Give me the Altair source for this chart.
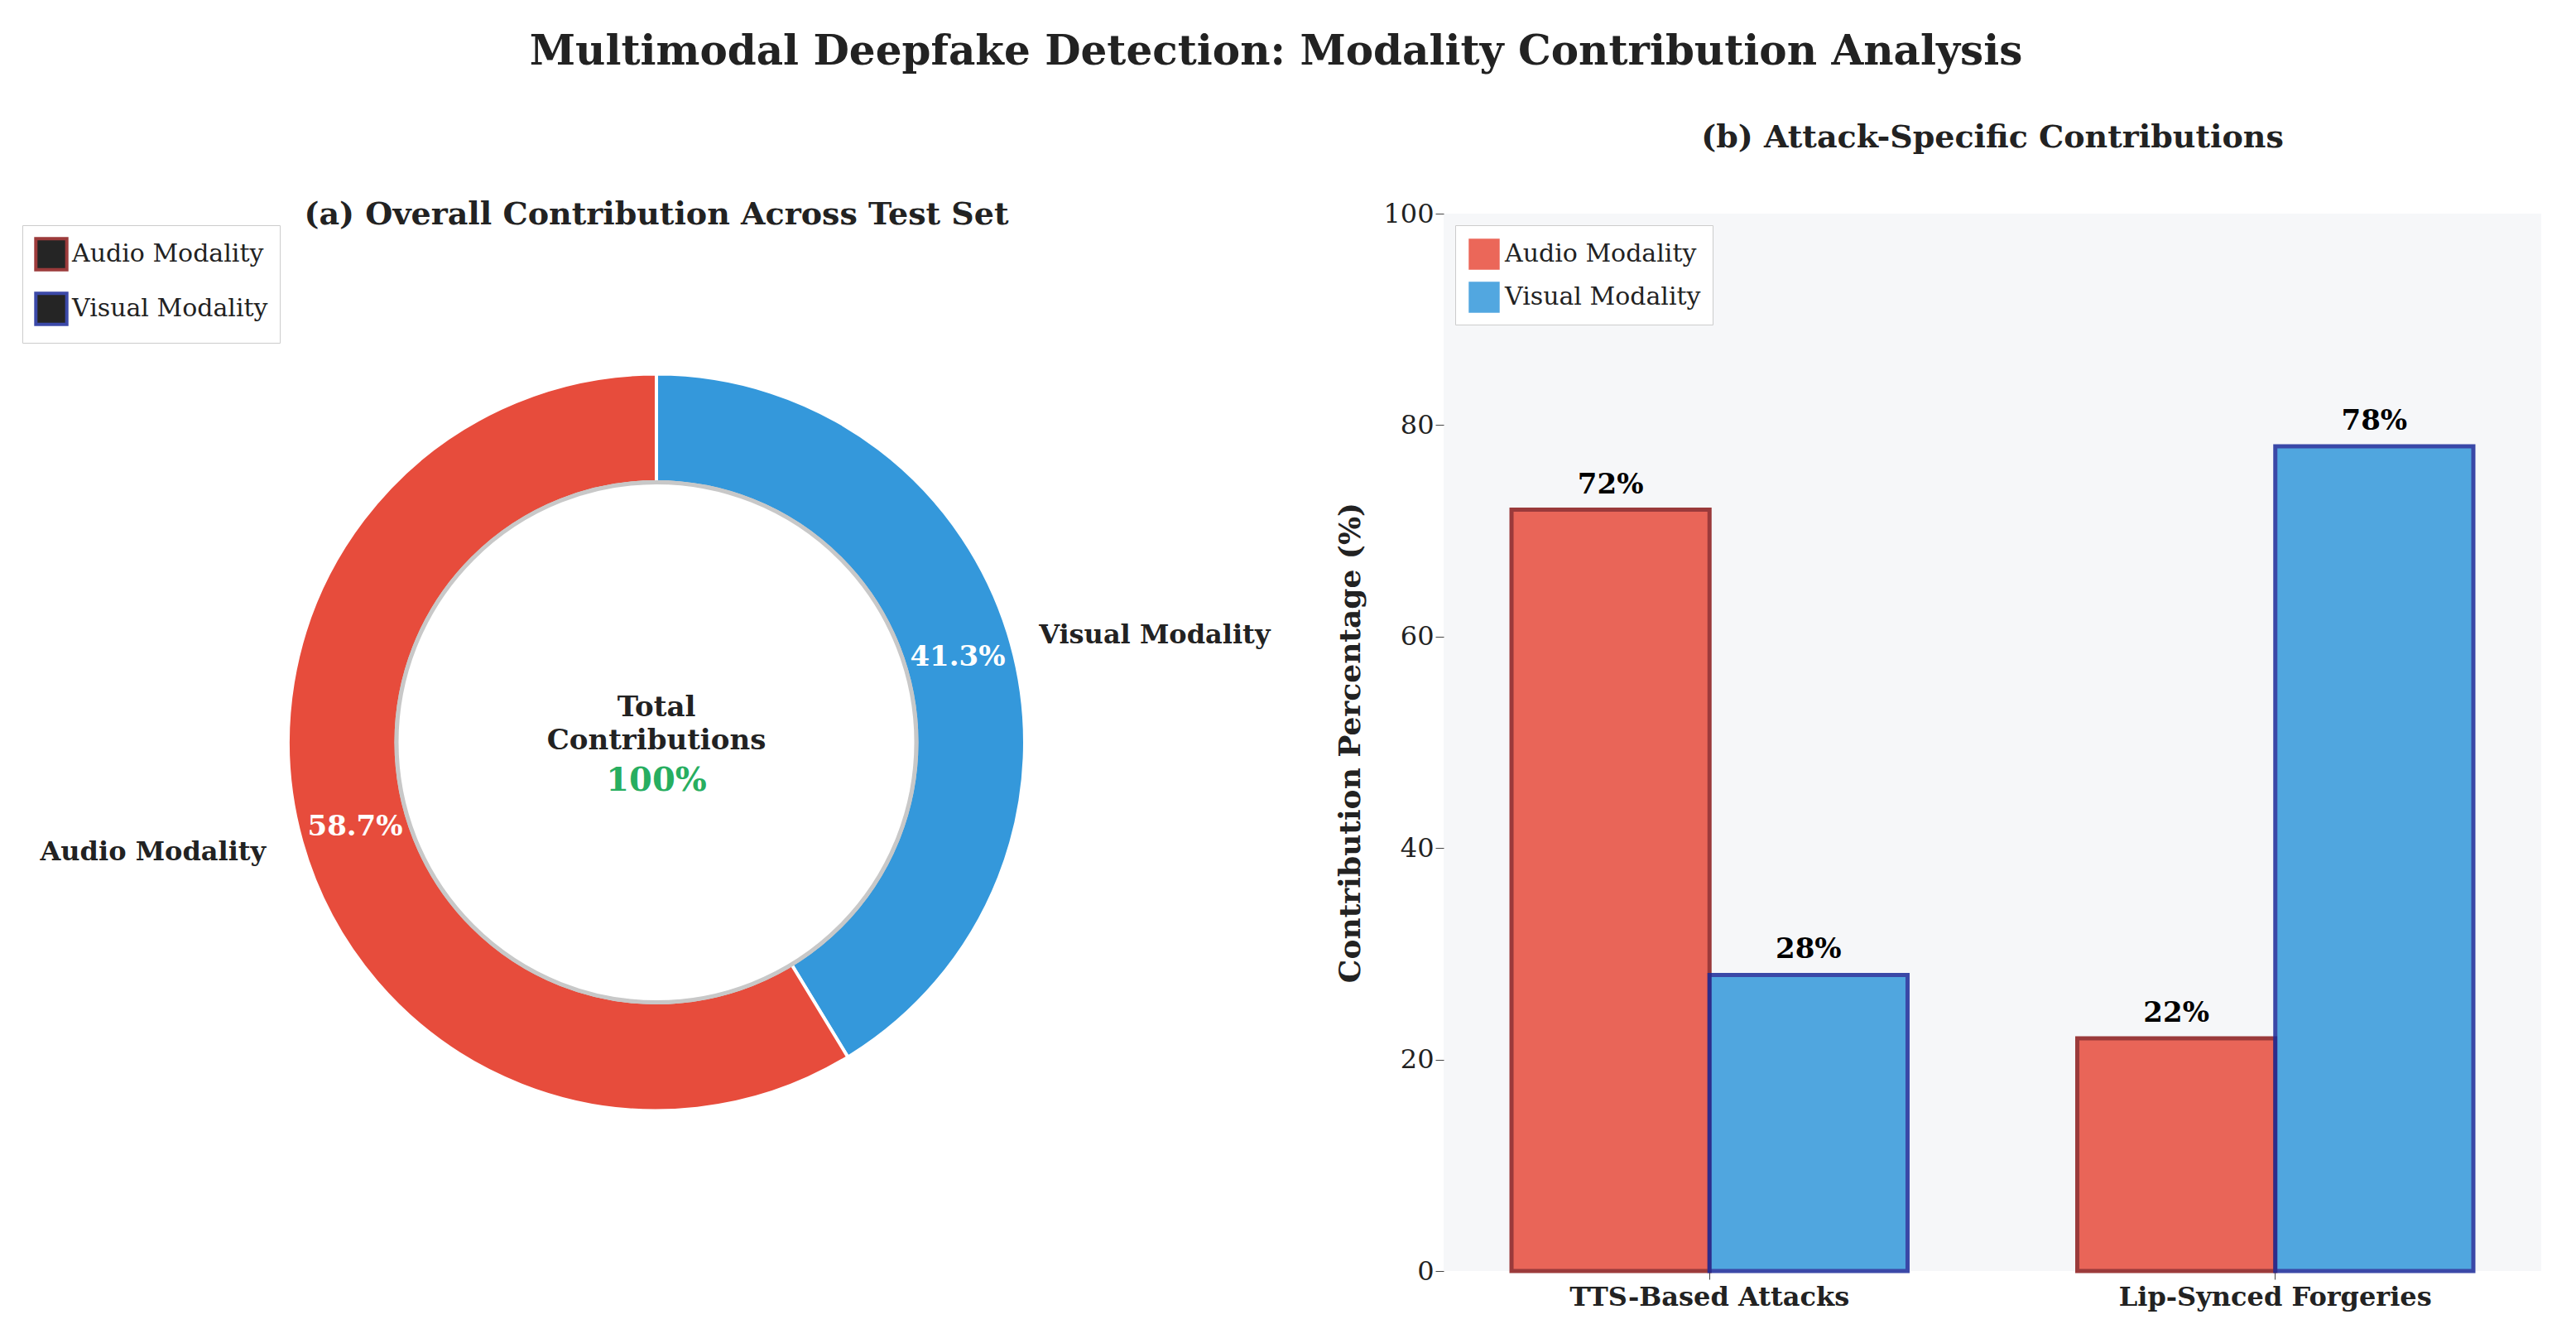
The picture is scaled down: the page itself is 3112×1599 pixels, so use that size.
import altair as alt
import pandas as pd

FONT = "DejaVu Serif"

# donut data
modalities = ["Visual Modality", "Audio Modality"]
shares = [41.3, 58.7]
share_labels = ["41.3%", "58.7%"]
mod_colors = ["#3498db", "#e74c3c"]

# bar data
attacks = ["TTS-Based Attacks", "TTS-Based Attacks", "Lip-Synced Forgeries", "Lip-Synced Forgeries"]
series = ["Audio Modality", "Visual Modality", "Audio Modality", "Visual Modality"]
contrib = [72, 28, 22, 78]
bar_labels = ["72%", "28%", "22%", "78%"]

donut = pd.DataFrame({"mod": modalities, "share": shares, "lab": share_labels,
                      "order": [0, 1]})
bars = pd.DataFrame({"attack": attacks, "series": series, "val": contrib, "lab": bar_labels})

W_L, H = 1560, 1277
OUT_R, IN_R = 445, 314

base = alt.Chart(donut).encode(
    theta=alt.Theta("share:Q", stack=True),
    order=alt.Order("order:Q"),
)
ring = base.mark_arc(outerRadius=OUT_R, innerRadius=IN_R, stroke="white", strokeWidth=4).encode(
    color=alt.Color("mod:N", scale=alt.Scale(domain=modalities, range=mod_colors), legend=None)
)
inner = alt.Chart(donut).mark_arc(radius=IN_R, fill="white", stroke="#c8c8c8", strokeWidth=5).encode(
    theta=alt.value(6.2832)
)
pct = base.mark_text(radius=378, font=FONT, fontWeight="bold", fontSize=34, color="white").encode(
    text="lab:N"
)
# text layers need the full stack, so hide the other label via opacity
name_vis = base.mark_text(radius=480, font=FONT, fontWeight="bold", fontSize=32,
                          align="left", color="#222").encode(
    text="mod:N",
    opacity=alt.condition("datum.mod == 'Visual Modality'", alt.value(1), alt.value(0)))
name_aud = base.mark_text(radius=490, font=FONT, fontWeight="bold", fontSize=32,
                          align="right", color="#222").encode(
    text="mod:N",
    opacity=alt.condition("datum.mod == 'Audio Modality'", alt.value(1), alt.value(0)))

center = alt.Chart(pd.DataFrame({"t": ["Total", "Contributions"], "dy": [-42, -2]})).mark_text(
    font=FONT, fontWeight="bold", fontSize=34, color="#222"
).encode(text="t:N", x=alt.value(W_L / 2), y=alt.value(H / 2), yOffset=alt.YOffset("dy:Q", scale=None))
hundred = alt.Chart(pd.DataFrame({"t": ["100%"]})).mark_text(
    font=FONT, fontWeight="bold", fontSize=40, color="#27ae60"
).encode(text="t:N", x=alt.value(W_L / 2), y=alt.value(H / 2 + 46))
title_a = alt.Chart(pd.DataFrame({"t": ["(a) Overall Contribution Across Test Set"]})).mark_text(
    font=FONT, fontWeight="bold", fontSize=38, color="#222"
).encode(text="t:N", x=alt.value(W_L / 2), y=alt.value(2))

left = alt.layer(ring, inner, pct, name_vis, name_aud, center, hundred, title_a).properties(
    width=W_L, height=H)

leg = dict(title=None, orient="top-left", labelFont=FONT, labelFontSize=30, labelLimit=0,
           symbolType="square", symbolSize=1400, symbolStrokeWidth=4, fillColor="white",
           strokeColor="#ccc", padding=14, rowPadding=12, offset=14, labelColor="#222",
           symbolOpacity=0.85)
sdom = ["Audio Modality", "Visual Modality"]

bar_base = alt.Chart(bars).encode(
    x=alt.X("attack:N", sort=["TTS-Based Attacks", "Lip-Synced Forgeries"],
            scale=alt.Scale(paddingInner=0.3, paddingOuter=0.12),
            axis=alt.Axis(title=None, labelAngle=0, labelFontWeight="bold", labelFontSize=32,
                          labelFont=FONT, labelColor="#222", domain=False, tickSize=10,
                          tickColor="#444", labelPadding=6, labelLimit=0)),
    xOffset=alt.XOffset("series:N"),
)
bar = bar_base.mark_bar(strokeWidth=5, opacity=0.85).encode(
    y=alt.Y("val:Q", scale=alt.Scale(domain=[0, 100]),
            axis=alt.Axis(title="Contribution Percentage (%)", values=[0, 20, 40, 60, 80, 100],
                          grid=False, domain=False, labelFont=FONT, labelFontSize=32,
                          labelColor="#222", titleFont=FONT, titleFontSize=36,
                          titleFontWeight="bold", titleColor="#222", tickSize=10,
                          tickColor="#444", titlePadding=20)),
    color=alt.Color("series:N", scale=alt.Scale(domain=sdom, range=["#e74c3c", "#3498db"]),
                    legend=alt.Legend(**leg)),
    stroke=alt.Stroke("series:N", scale=alt.Scale(domain=sdom, range=["#8b1a1a", "#1a2a99"]),
                      legend=alt.Legend(**leg)),
)
bar_txt = bar_base.mark_text(font=FONT, fontWeight="bold", fontSize=34, dy=-30, color="black").encode(
    y="val:Q", text="lab:N")

right = alt.layer(bar, bar_txt).properties(
    width=1326, height=H,
    view=alt.ViewBackground(fill="#f6f7f9", stroke=None),
    title=alt.TitleParams("(b) Attack-Specific Contributions", font=FONT, fontSize=38,
                          fontWeight="bold", color="#222", offset=56),
)

chart = alt.hconcat(left, right, spacing=40).properties(
    title=alt.TitleParams("Multimodal Deepfake Detection: Modality Contribution Analysis",
                          font=FONT, fontSize=50, fontWeight="bold", color="#222",
                          anchor="middle", offset=60),
    background="white",
    padding={"top": 30, "left": 5, "right": 5, "bottom": 5},
).resolve_scale(color="independent")
chart = chart.configure_view(stroke=None)
chart.save("out.html", embed_options={"renderer": "svg", "actions": False})
